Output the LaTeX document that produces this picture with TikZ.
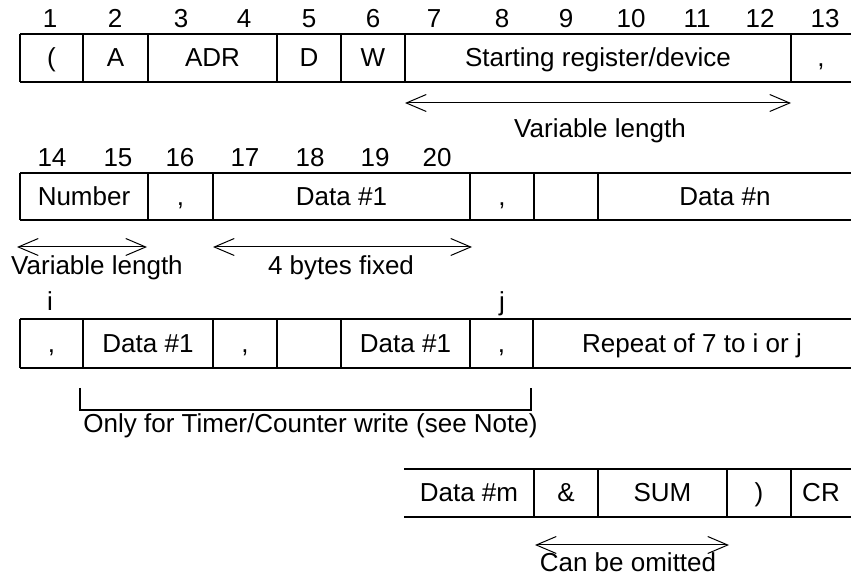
\documentclass[tikz,border=0pt]{standalone}
\usepackage{fontspec}
\setmainfont{Liberation Sans}
\usetikzlibrary{arrows.meta}

\begin{document}
\begin{tikzpicture}[
  x=0.5pt, y=-0.5pt,
  font=\fontsize{13}{15}\selectfont,
  field/.style={anchor=base, inner sep=0pt},
  idx/.style={anchor=base, inner sep=0pt},
  note/.style={anchor=base, inner sep=0pt},
  frame/.style={line width=1pt},
  span/.style={{Straight Barb[length=10pt,width=8.5pt]}-{Straight Barb[length=10pt,width=8.5pt]}, line width=0.5pt},
]
\useasboundingbox (0,0) rectangle (851,576);

% ---------- ROW 1: HEADER ----------
\foreach \x/\n in {50/1,115/2,181/3,244/4,309/5,373/6,434/7,502/8,566/9,631/10,697/11,760/12,825/13}
  \node[idx] (n\n) at (\x,28) {\n};
\draw[frame] (20,34) -- (851,34) (20,82) -- (851,82);
\foreach \x in {20,83,148,277,341,405,791}
  \draw[frame] (\x,34) -- (\x,82);
\foreach \x/\t [count=\k] in {51.5/{(},115.5/A,212.5/ADR,309/D,373/W,598/{Starting register/device},821/{,}}
  \node[field] (ra\k) at (\x,67) {\t};
\coordinate (vaL) at (405,103);
\coordinate (vaR) at (791,103);
\draw[span] (vaL) -- (vaR);
\node[note] (varA) at (600,138) {Variable length};

% ---------- ROW 2: NUMBER AND DATA ----------
\foreach \x/\n in {52/14,118/15,180/16,245/17,310/18,375/19,437/20}
  \node[idx] (n\n) at (\x,167) {\n};
\draw[frame] (20,173) -- (851,173) (20,220) -- (851,220);
\foreach \x in {20,148,213,470,534,598}
  \draw[frame] (\x,173) -- (\x,220);
\foreach \x/\t [count=\k] in {84/Number,180.5/{,},341.5/{Data \#1},502/{,},725/{Data \#n}}
  \node[field] (rb\k) at (\x,206) {\t};
\coordinate (vbL) at (17,247);
\coordinate (vbR) at (147,247);
\draw[span] (vbL) -- (vbR);
\node[note] (varB) at (97,275) {Variable length};
\coordinate (fxL) at (213,247);
\coordinate (fxR) at (472,247);
\draw[span] (fxL) -- (fxR);
\node[note] (fixed) at (341,275) {4 bytes fixed};

% ---------- ROW 3: TIMER/COUNTER ----------
\node[idx] (ni) at (50,311) {i};
\node[idx] (nj) at (502,311) {j};
\draw[frame] (20,319) -- (851,319) (20,368) -- (851,368);
\foreach \x in {20,83,213,277,341,470,533}
  \draw[frame] (\x,319) -- (\x,368);
\foreach \x/\t [count=\k] in {51.5/{,},148/{Data \#1},245/{,},405.5/{Data \#1},501.5/{,},692/{Repeat of 7 to i or j}}
  \node[field] (rc\k) at (\x,353) {\t};
\coordinate (brL) at (80,388);
\coordinate (brB) at (531,410);
\coordinate (brR) at (531,388);
\draw[line width=0.6pt] (brL) |- (brB) -- (brR);
\node[note] (timer) at (310.5,433) {Only for Timer/Counter write (see Note)};

% ---------- ROW 4: TERMINATOR ----------
\draw[frame] (404,469) -- (851,469) (404,517) -- (851,517);
\foreach \x in {534,598,727,791}
  \draw[frame] (\x,469) -- (\x,517);
\foreach \x/\t [count=\k] in {469/{Data \#m},566/{\&},662.5/SUM,759/{)},821/CR}
  \node[field] (rd\k) at (\x,502) {\t};
\coordinate (omL) at (535,545);
\coordinate (omR) at (729,545);
\draw[span] (omL) -- (omR);
\node[note] (omit) at (628,572) {Can be omitted};

\end{tikzpicture}
\end{document}
